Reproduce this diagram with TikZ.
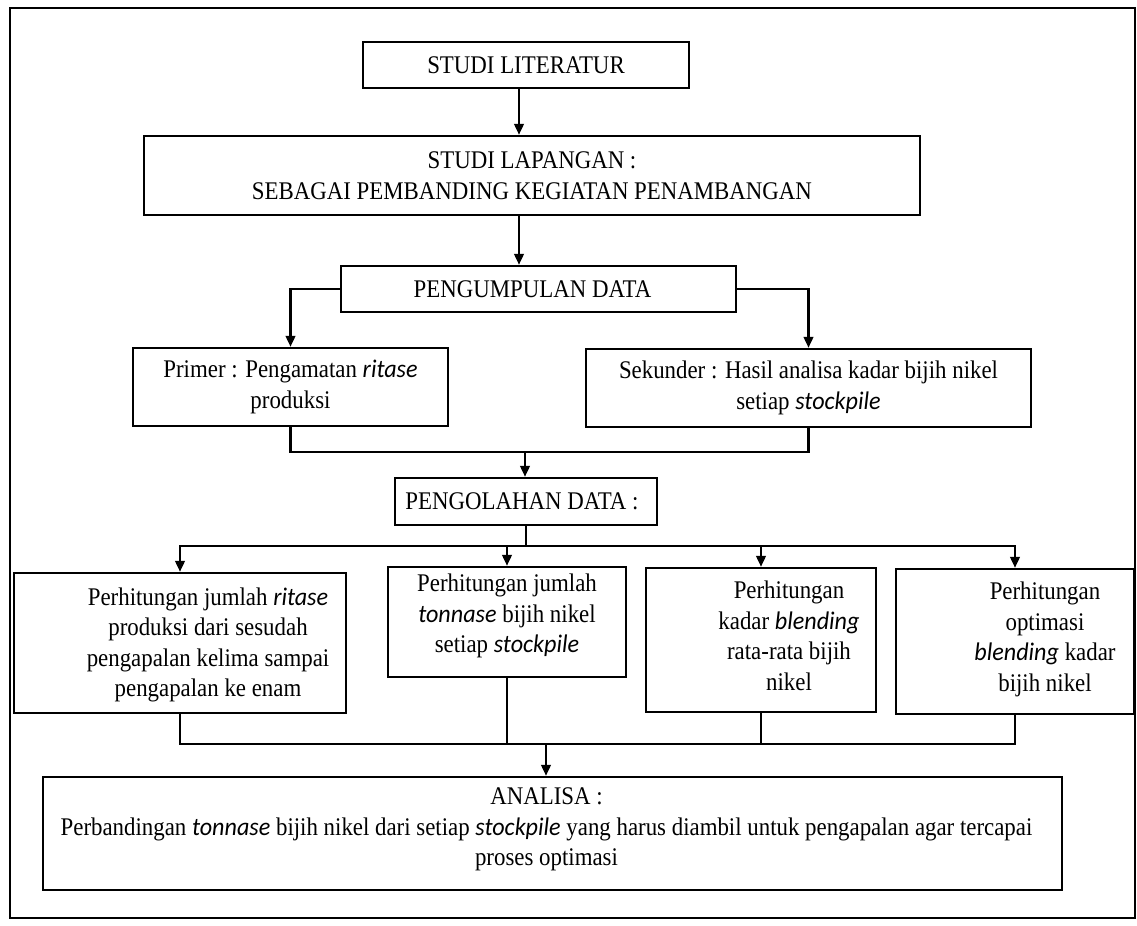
\documentclass[tikz,border=0pt]{standalone}
\usepackage{fontspec}
\setmainfont{Liberation Serif}[FakeStretch=0.9]
\newfontfamily\itf{Carlito}[FakeStretch=0.95]
\newcommand\iw[1]{{\itf\itshape #1}}
\usetikzlibrary{arrows.meta}
\begin{document}
\begin{tikzpicture}[x=0.5pt,y=-0.5pt,
  box/.style={draw, line width=1.2pt, inner sep=0pt},
  txt/.style={align=center, inner sep=0pt, font=\fontsize{12.7}{15.3}\selectfont},
  ln/.style={line width=1.2pt},
  arr/.style={line width=1.2pt, -{Triangle[length=5.5pt,width=4.8pt]}}]
\useasboundingbox (0,0) rectangle (1137,926);
\draw[line width=1.2pt] (10,8) rectangle (1135,918);
% boxes
\node[box, minimum width=163pt, minimum height=23pt] (lit) at (526,65) {};
\node[box, minimum width=388pt, minimum height=39.5pt] (lap) at (532,175.5) {};
\node[box, minimum width=197.5pt, minimum height=23pt] (pgm) at (538.5,289) {};
\node[box, minimum width=157.5pt, minimum height=39pt] (pri) at (290.5,387) {};
\node[box, minimum width=222.5pt, minimum height=39pt] (sek) at (808.5,388) {};
\node[box, minimum width=131pt, minimum height=23.5pt] (pgl) at (526,501.5) {};
\node[box, minimum width=166pt, minimum height=70pt] (b1) at (180,643) {};
\node[box, minimum width=119pt, minimum height=55pt] (b2) at (507,622) {};
\node[box, minimum width=115pt, minimum height=72pt] (b3) at (761,640) {};
\node[box, minimum width=119pt, minimum height=72.5pt] (b4) at (1015,641.5) {};
\node[box, minimum width=509.5pt, minimum height=56.5pt] (ana) at (552.5,833.5) {};
% texts
\node[txt] (litt) at (lit.center) {STUDI LITERATUR};
\node[txt] (lapt) at (lap.center) {STUDI LAPANGAN :\\SEBAGAI PEMBANDING KEGIATAN PENAMBANGAN};
\node[txt] (pgmt) at ([xshift=-3pt]pgm.center) {PENGUMPULAN DATA};
\node[txt] (prit) at (pri.center) {Primer : Pengamatan \iw{ritase}\\produksi};
\node[txt] (sekt) at (sek.center) {Sekunder : Hasil analisa kadar bijih nikel\\setiap \iw{stockpile}};
\node[txt] (pglt) at ([xshift=-2pt]pgl.center) {PENGOLAHAN DATA :};
\node[txt] (b1t) at ([xshift=14pt,yshift=-1pt]b1.center) {Perhitungan jumlah \iw{ritase}\\produksi dari sesudah\\pengapalan kelima sampai\\pengapalan ke enam};
\node[txt] (b2t) at ([yshift=3pt]b2.center) {Perhitungan jumlah\\\iw{tonnase} bijih nikel\\setiap \iw{stockpile}};
\node[txt] (b3t) at ([xshift=14pt,yshift=2pt]b3.center) {Perhitungan\\kadar \iw{blending}\\rata-rata bijih\\nikel};
\node[txt] (b4t) at ([xshift=15pt,yshift=1pt]b4.center) {Perhitungan\\optimasi\\\iw{blending} kadar\\bijih nikel};
\node[txt] (anat) at ([xshift=-3pt,yshift=2pt]ana.center) {ANALISA :\\Perbandingan \iw{tonnase} bijih nikel dari setiap \iw{stockpile} yang harus diambil untuk pengapalan agar tercapai\\proses optimasi};
% connectors
\coordinate (ax) at (519,0);
\draw[arr] (lit.south -| ax) -- (lap.north -| ax);
\draw[arr] (lap.south -| ax) -- (pgm.north -| ax);
\draw[arr] (pgm.west) -| (pri.north);
\draw[arr] (pgm.east) -| (sek.north);
\coordinate (m1) at (525,452);
\draw[ln] (pri.south) |- (m1);
\draw[ln] (sek.south) |- (m1);
\draw[arr] (m1) -- (m1 |- pgl.north);
\coordinate (s1) at (526,546);
\draw[ln] (pgl.south) -- (s1);
\draw[arr] (s1) -| (b1.north);
\draw[arr] (s1) -| (b2.north);
\draw[arr] (s1) -| (b3.north);
\draw[arr] (s1) -| (b4.north);
\coordinate (m2) at (546,744);
\draw[ln] (b1.south) |- (m2);
\draw[ln] (b4.south) |- (m2);
\draw[ln] (b2.south) -- (b2.south |- m2);
\draw[ln] (b3.south) -- (b3.south |- m2);
\draw[arr] (m2) -- (m2 |- ana.north);
\end{tikzpicture}
\end{document}
